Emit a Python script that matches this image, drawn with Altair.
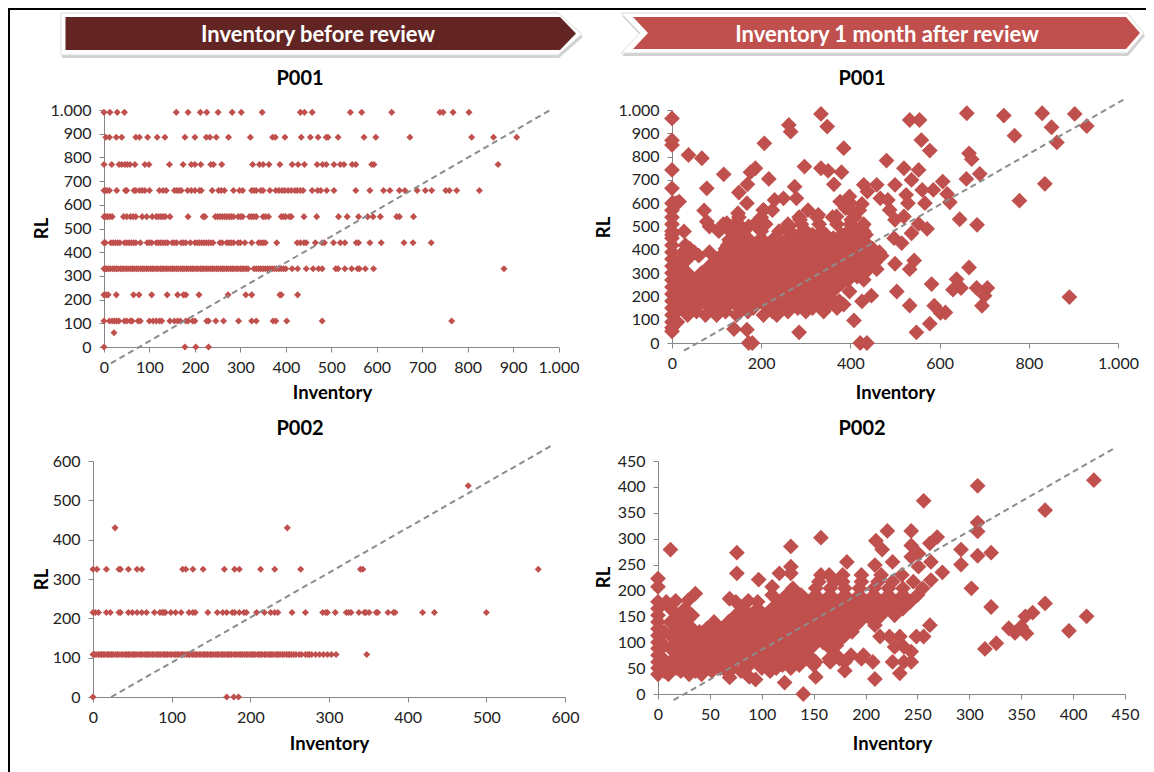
import altair as alt
import pandas as pd

RED = "#C0504D"
DARK = "#632523"
FONT = "Lato"
W, H = 1138, 764

# ---------- P001 before review: RL level -> inventory readings
A_ROWS = {
    990: [0,13,29,45,159,185,212,226,251,282,302,348,432,441,458,542,567,633,739,746,768,803],
    885: [4,12,27,39,70,78,96,117,134,178,200,225,233,247,274,322,371,377,398,434,454,471,489,493,515,572,598,673,809,857,908],
    770: [0,17,33,39,46,51,57,68,90,99,144,174,192,200,213,235,241,259,327,342,350,363,387,414,427,441,469,481,489,506,520,528,546,554,589,594,867],
    660: [0,3,7,12,28,47,50,66,70,78,84,90,100,122,130,137,155,160,165,170,184,192,200,210,214,238,252,258,265,285,298,305,325,330,335,345,350,365,378,385,392,398,405,412,420,425,432,438,458,470,477,490,506,554,585,615,629,650,662,689,707,721,752,760,776,826],
    550: [0,4,8,13,18,43,50,58,64,70,84,94,106,115,120,125,130,135,145,185,218,222,245,250,255,260,265,270,275,280,285,295,300,305,320,325,330,335,350,355,362,390,395,400,408,412,440,468,516,535,560,580,592,608,644,650,681],
    440: [0,3,15,20,25,30,35,45,50,55,60,65,70,80,95,100,105,115,120,125,130,135,140,150,155,160,170,175,180,190,200,205,210,215,220,225,230,235,240,255,260,270,275,280,285,295,300,310,325,340,345,350,355,380,425,432,440,445,465,480,485,505,520,530,555,560,585,610,660,680,720],
    330: [0,3,6,10,14,19,23,27,31,36,40,44,49,53,58,62,66,71,75,80,84,88,93,97,102,106,110,115,119,124,128,132,137,141,146,150,154,159,163,168,172,176,181,185,190,194,198,203,207,212,216,220,225,229,234,238,242,247,251,256,260,264,269,273,278,282,286,291,295,300,304,308,313,317,330,335,340,345,350,355,360,365,370,375,380,385,390,395,400,414,426,445,460,472,480,510,515,530,545,558,562,575,593,880],
    220: [0,5,9,27,65,77,105,139,162,175,180,209,273,312,325,387,390,426],
    110: [0,12,18,23,28,33,45,50,58,62,75,80,100,108,115,122,127,145,155,162,168,180,185,195,200,226,230,246,263,296,325,335,372,378,402,480,765],
    60: [22],
    0: [0,178,202,230],
}
A_LINE_X = [15, 985]
A_LINE_Y = [-69, 1003]

# ---------- P001 after review: dense body, by RL row
B_ROWS = {
    50: [0],
    65: [0],
    90: [0,12],
    120: [0,35,75,100,145,205,235],
    135: [10,55,120,170,225,260,300,340],
    150: [0,20,52,85,118,150,182,215,250,282,315,345,370],
    165: [12,50,84,118,150,182,216,250,282,316,350,385],
    180: [0,35,68,100,134,166,198,232,265,298,330,362,375],
    195: [18,50,84,118,150,182,216,250,282,316,345],
    210: [0,18,50,84,118,150,182,216,250,282,350],
    225: [35,68,100,134,166,198,232,265,298,330,362],
    240: [0,35,68,100,134,166,198,232,265,298,330,362],
    255: [18,50,84,118,150,182,216,250,282,316,350,380],
    270: [0,18,50,84,118,150,182,216,250,282,316,350,375,395],
    285: [35,66,100,134,166,198,232,265,298,330,362,395,415],
    300: [0,35,66,100,134,166,198,232,265,298,330,362,395,425],
    315: [18,84,118,150,182,216,250,282,316,350,380,412,440],
    330: [0,20,84,118,150,182,216,250,282,316,350,380,412,445],
    345: [12,100,134,166,198,232,265,298,330,362,395,428,455],
    360: [0,35,100,134,166,198,232,265,298,330,362,395,428,460],
    375: [28,60,118,150,182,216,250,282,316,350,380,412,445,470],
    390: [0,25,50,84,118,150,182,216,250,282,316,350,380,412,445,465],
    405: [40,120,134,166,198,232,265,298,330,362,395,428,450],
    420: [0,30,125,150,160,182,215,250,282,316,350,380,412,440],
    435: [130,155,175,240,265,298,330,362,395,428],
    450: [0,140,170,200,230,260,300,330,362,395,425],
    465: [0,160,285,315,345,380,410,435],
    480: [0,105,130,155,200,240,265,300,335,395,430],
    510: [0,115,140,150,185,210,260,290,330,370,400,430],
    540: [0,150,200,285,325,360,410],
    570: [0,205,225,305,400,420],
    600: [0,10,400],
}
B_EXTRA_X = [168,285,172,180,422,437,408,139,548,578,779,836,891,930,903,830,744,661,851,768,863,666,672,690,660,607,586,561,617,623,567,645,684,572,553,537,498,515,500,543,533,666,638,582,630,648,683,707,701,504,533,588,602,613,695,447,426,398,430,459,0,0,0,0,0,37,67,207,334,348,262,266,385,533,555,559,578,481,116,78,297,334,350,380,363,275,187,176,217,169,150,168,72,78,84,27,16,4,430,459,438,467,484,488,500,520,529,525,537,520,553,500,426,398,377,389,279,230,250,205,197,230,262,287,328,369,402,426,148,123,107,128,172]
B_EXTRA_Y = [57,46,0,0,0,0,97,60,46,83,611,683,197,931,983,986,976,986,926,890,861,814,789,726,704,693,657,657,640,604,600,531,507,490,511,471,450,429,340,354,317,324,274,253,229,236,236,236,203,221,161,160,129,131,160,203,179,221,271,317,964,870,850,743,664,807,793,857,983,929,936,907,836,957,957,871,826,783,724,664,757,750,739,733,681,671,750,733,704,681,646,600,569,521,500,479,607,600,679,679,650,621,614,571,529,543,600,636,700,750,743,679,597,629,607,579,621,614,621,571,529,450,500,529,550,543,529,500,557,514,486,443,500]
B_LINE_X = [27, 1014]
B_LINE_Y = [-33, 1046]

# ---------- P002 before review
C_ROWS = {
    537: [477],
    430: [28,247],
    325: [0,5,17,33,35,45,56,62,114,118,127,140,167,180,186,213,231,264,340,343,566],
    215: [0,3,7,17,22,33,35,45,50,56,62,68,78,85,88,90,92,99,105,112,122,127,130,146,158,165,170,177,180,186,192,195,208,218,226,231,235,253,270,292,296,298,308,322,325,328,338,345,347,351,360,362,375,382,384,419,434,500],
    108: [0,2,4,7,9,11,13,15,18,20,22,24,26,29,31,33,36,38,41,43,45,47,50,52,54,56,59,61,63,66,68,70,72,75,77,80,82,84,86,89,91,93,95,98,100,103,105,107,109,112,114,116,119,121,123,126,128,130,132,135,137,140,142,144,146,149,151,153,156,158,160,163,165,167,170,172,174,176,179,181,183,186,188,190,193,195,197,200,202,204,206,209,211,213,215,218,220,223,225,227,229,232,234,236,238,241,243,246,248,250,252,255,258,262,265,270,273,275,278,283,288,293,298,303,309,348],
    0: [0,170,179,185],
}
C_LINE_X = [23, 582]
C_LINE_Y = [0, 638]

# ---------- P002 after review
D_ROWS = {
    38: [0,10,30,42],
    44: [6,22,36,52,66,80,108],
    50: [0,18,32,46,60,72,100,114,128],
    56: [6,24,38,52,66,88,104,120,136,150],
    62: [0,12,26,40,54,68,82,96,110,124,138,152,166,180,207],
    68: [5,19,33,47,61,75,89,103,117,131,145,165,175,196],
    75: [0,19,33,47,61,75,89,103,117,131,145,172,186,198],
    88: [0,12,26,40,54,68,82,96,110,124,138,166],
    94: [6,19,33,47,61,75,89,103,117,131,150,172],
    100: [0,19,33,47,61,75,89,103,117,131,145,159,173],
    113: [0,12,26,40,54,68,82,96,110,124,138,152,166,180],
    120: [6,40,61,75,89,103,117,131,145,159,173,187],
    126: [0,19,33,47,61,75,89,103,117,131,145,159,173,187],
    139: [0,12,26,54,68,82,96,110,124,138,152,166,180,194,208],
    152: [0,19,33,75,89,103,117,131,145,159,173,187,201,215,228],
    165: [0,12,26,82,96,110,124,138,152,166,180,194,208,222,236],
    178: [0,8,75,96,117,131,145,159,173,187,201,215,229,243],
    191: [110,124,138,152,166,180,194,208,222,236,250],
    204: [130,152,166,180,194,208,222,236,255],
    217: [155,170,178,196,212,226,246],
    230: [157,165,178,196,215,235],
}
D_EXTRA_X = [420,373,308,256,308,308,308,292,292,321,302,321,373,413,396,361,354,355,350,344,338,326,315,262,256,249,244,244,237,233,226,228,233,237,214,223,209,209,140,122,94,88,69,152,180,12,76,76,128,157,210,221,244,216,244,182,226,263,269,262,274,263,251,251,244,128,128,117,97,0,0,17,36,29,110,87,69,209]
D_EXTRA_Y = [413,355,402,373,331,314,267,279,250,273,204,168,175,150,122,157,150,117,130,118,127,98,87,133,111,111,82,62,62,40,62,91,111,91,111,111,133,29,0,22,28,33,32,33,45,279,273,233,285,302,296,315,315,279,287,255,255,255,303,291,235,220,271,246,265,246,233,233,221,223,207,180,194,181,207,180,184,249]
D_LINE_X = [15, 440]
D_LINE_Y = [-12, 475]

# Tick values
TICKS_1000 = [0,100,200,300,400,500,600,700,800,900,1000]
TICKS_1000_B = [0,200,400,600,800,1000]
TICKS_600 = [0,100,200,300,400,500,600]
TICKS_450 = [0,50,100,150,200,250,300,350,400,450]

THOUSANDS = "replace(format(datum.value, ','), ',', '.')"


def rows_frame(rows, xs=(), ys=()):
    px, py = [], []
    for rl, inv in rows.items():
        px += inv
        py += [rl] * len(inv)
    return pd.DataFrame({"x": px + list(xs), "y": py + list(ys)})


def panel(df, lx, ly, dom_x, dom_y, rx, ry, tx, ty, size, tpos, rlpos, invpos, title):
    sx = alt.Scale(domain=dom_x, range=rx, nice=False, zero=False)
    sy = alt.Scale(domain=dom_y, range=ry, nice=False, zero=False)
    ax_x = alt.Axis(
        orient="bottom", offset=ry[0] - H, values=tx, labelExpr=THOUSANDS, labelPadding=7,
        title="Inventory", titleX=invpos[0], titleY=invpos[1] - ry[0],
        titleBaseline="middle", titleAlign="center", titleAnchor="start",
    )
    ax_y = alt.Axis(
        orient="left", offset=-rx[0], values=ty, labelExpr=THOUSANDS, labelPadding=8,
        title="RL", titleX=rlpos[0] - rx[0], titleY=rlpos[1],
        titleBaseline="middle", titleAlign="center", titleAngle=270, titleAnchor="start",
    )
    pts = alt.Chart(df).mark_point(
        shape="diamond", filled=True, size=size, color=RED, opacity=1
    ).encode(
        x=alt.X("x:Q", scale=sx, axis=ax_x),
        y=alt.Y("y:Q", scale=sy, axis=ax_y),
    )
    line = alt.Chart(pd.DataFrame({"x": lx, "y": ly})).mark_line(
        color="#8C8C8C", strokeWidth=2, strokeDash=[6, 4]
    ).encode(
        x=alt.X("x:Q", scale=sx, axis=ax_x),
        y=alt.Y("y:Q", scale=sy, axis=ax_y),
    )
    ttl = alt.Chart(pd.DataFrame({"t": [title]})).mark_text(
        font=FONT, fontWeight="bold", fontSize=20, color="black", align="center", baseline="middle"
    ).encode(x=alt.value(tpos[0]), y=alt.value(tpos[1]), text="t:N")
    return alt.layer(pts, line, ttl)


sx_h = alt.Scale(domain=[0, W], range=[0, W], nice=False, zero=False)
sy_h = alt.Scale(domain=[0, H], range=[0, H], nice=False, zero=False)


def arrow(yy, xa, xb, **kw):
    return alt.Chart(pd.DataFrame({"yy": yy, "xa": xa, "xb": xb})).mark_area(
        orient="horizontal", **kw
    ).encode(
        y=alt.Y("yy:Q", scale=sy_h, axis=None),
        x=alt.X("xa:Q", scale=sx_h, axis=None, stack=None),
        x2="xb:Q",
    )


def shifted(v, d):
    return [a + d for a in v]


# header shapes
L_OUT_Y, L_OUT_A, L_OUT_B = [5, 26, 47], [53, 53, 53], [550, 574, 550]
L_IN_Y, L_IN_A, L_IN_B = [9, 25.5, 42], [57.5, 57.5, 57.5], [552, 568, 552]
R_OUT_Y, R_OUT_A, R_OUT_B = [5, 25, 45], [613, 632, 613], [1119, 1136, 1119]
R_IN_Y, R_IN_A, R_IN_B = [9, 25, 41], [625, 640, 625], [1118, 1132, 1118]

hdr = alt.layer(
    arrow(shifted(L_OUT_Y, 3), shifted(L_OUT_A, 1), shifted(L_OUT_B, 1), color="#9A9A9A", opacity=0.45),
    arrow(L_OUT_Y, L_OUT_A, L_OUT_B, color="white", stroke="#DDDDDD", strokeWidth=1),
    arrow(L_IN_Y, L_IN_A, L_IN_B, color=DARK),
    arrow(shifted(R_OUT_Y, 3), shifted(R_OUT_A, 1), shifted(R_OUT_B, 1), color="#9A9A9A", opacity=0.45),
    arrow(R_OUT_Y, R_OUT_A, R_OUT_B, color="white", stroke="#DDDDDD", strokeWidth=1),
    arrow(R_IN_Y, R_IN_A, R_IN_B, color=RED),
)

heads = alt.Chart(pd.DataFrame({
    "t": ["Inventory before review", "Inventory 1 month after review"],
    "x": [310, 879], "y": [27, 27],
})).mark_text(
    font=FONT, fontWeight="bold", fontSize=22, color="white", align="center", baseline="middle"
).encode(
    x=alt.X("x:Q", scale=sx_h, axis=None),
    y=alt.Y("y:Q", scale=sy_h, axis=None),
    text="t:N",
)

frame_left = alt.Chart(pd.DataFrame({"a": [0]})).mark_rule(color="black", strokeWidth=2).encode(
    x=alt.value(1), y=alt.value(0), y2=alt.value(H)
)
frame_top = alt.Chart(pd.DataFrame({"a": [0]})).mark_rule(color="black", strokeWidth=2).encode(
    y=alt.value(1), x=alt.value(0), x2=alt.value(W)
)

pA = panel(rows_frame(A_ROWS), A_LINE_X, A_LINE_Y, [0, 1000], [0, 1000], [96, 550.5], [339, 102],
           TICKS_1000, TICKS_1000, 50, (292, 71), (33, 220), (324, 384), "P001")
pB = panel(rows_frame(B_ROWS, B_EXTRA_X, B_EXTRA_Y), B_LINE_X, B_LINE_Y, [0, 1000], [0, 1000], [664, 1110], [335, 102],
           TICKS_1000_B, TICKS_1000, 250, (854, 71), (595, 219), (887, 384), "P001")
pC = panel(rows_frame(C_ROWS), C_LINE_X, C_LINE_Y, [0, 600], [0, 600], [85, 557], [689, 453],
           TICKS_600, TICKS_600, 50, (292, 421), (33, 571), (321, 735), "P002")
pD = panel(rows_frame(D_ROWS, D_EXTRA_X, D_EXTRA_Y), D_LINE_X, D_LINE_Y, [0, 450], [0, 450], [650, 1117], [686, 453],
           TICKS_450, TICKS_450, 250, (854, 421), (595, 569), (884, 735), "P002")

chart = alt.layer(
    alt.layer(hdr, heads, frame_left, frame_top), pA, pB, pC, pD
).resolve_scale(x="independent", y="independent").resolve_axis(
    x="independent", y="independent"
).properties(
    width=W, height=H, padding=0, autosize=alt.AutoSizeParams(type="none"),
).configure_view(stroke=None).configure_axis(
    grid=False, labelFlush=False,
    domainColor="#868686", tickColor="#868686", tickSize=5, domainWidth=1, tickWidth=1,
    labelFont=FONT, labelFontSize=16, labelColor="#222222",
    titleFont=FONT, titleFontSize=18.5, titleFontWeight="bold", titleColor="black",
    labelOverlap=False,
)

chart.save("out.html", embed_options={"renderer": "svg", "actions": False})
